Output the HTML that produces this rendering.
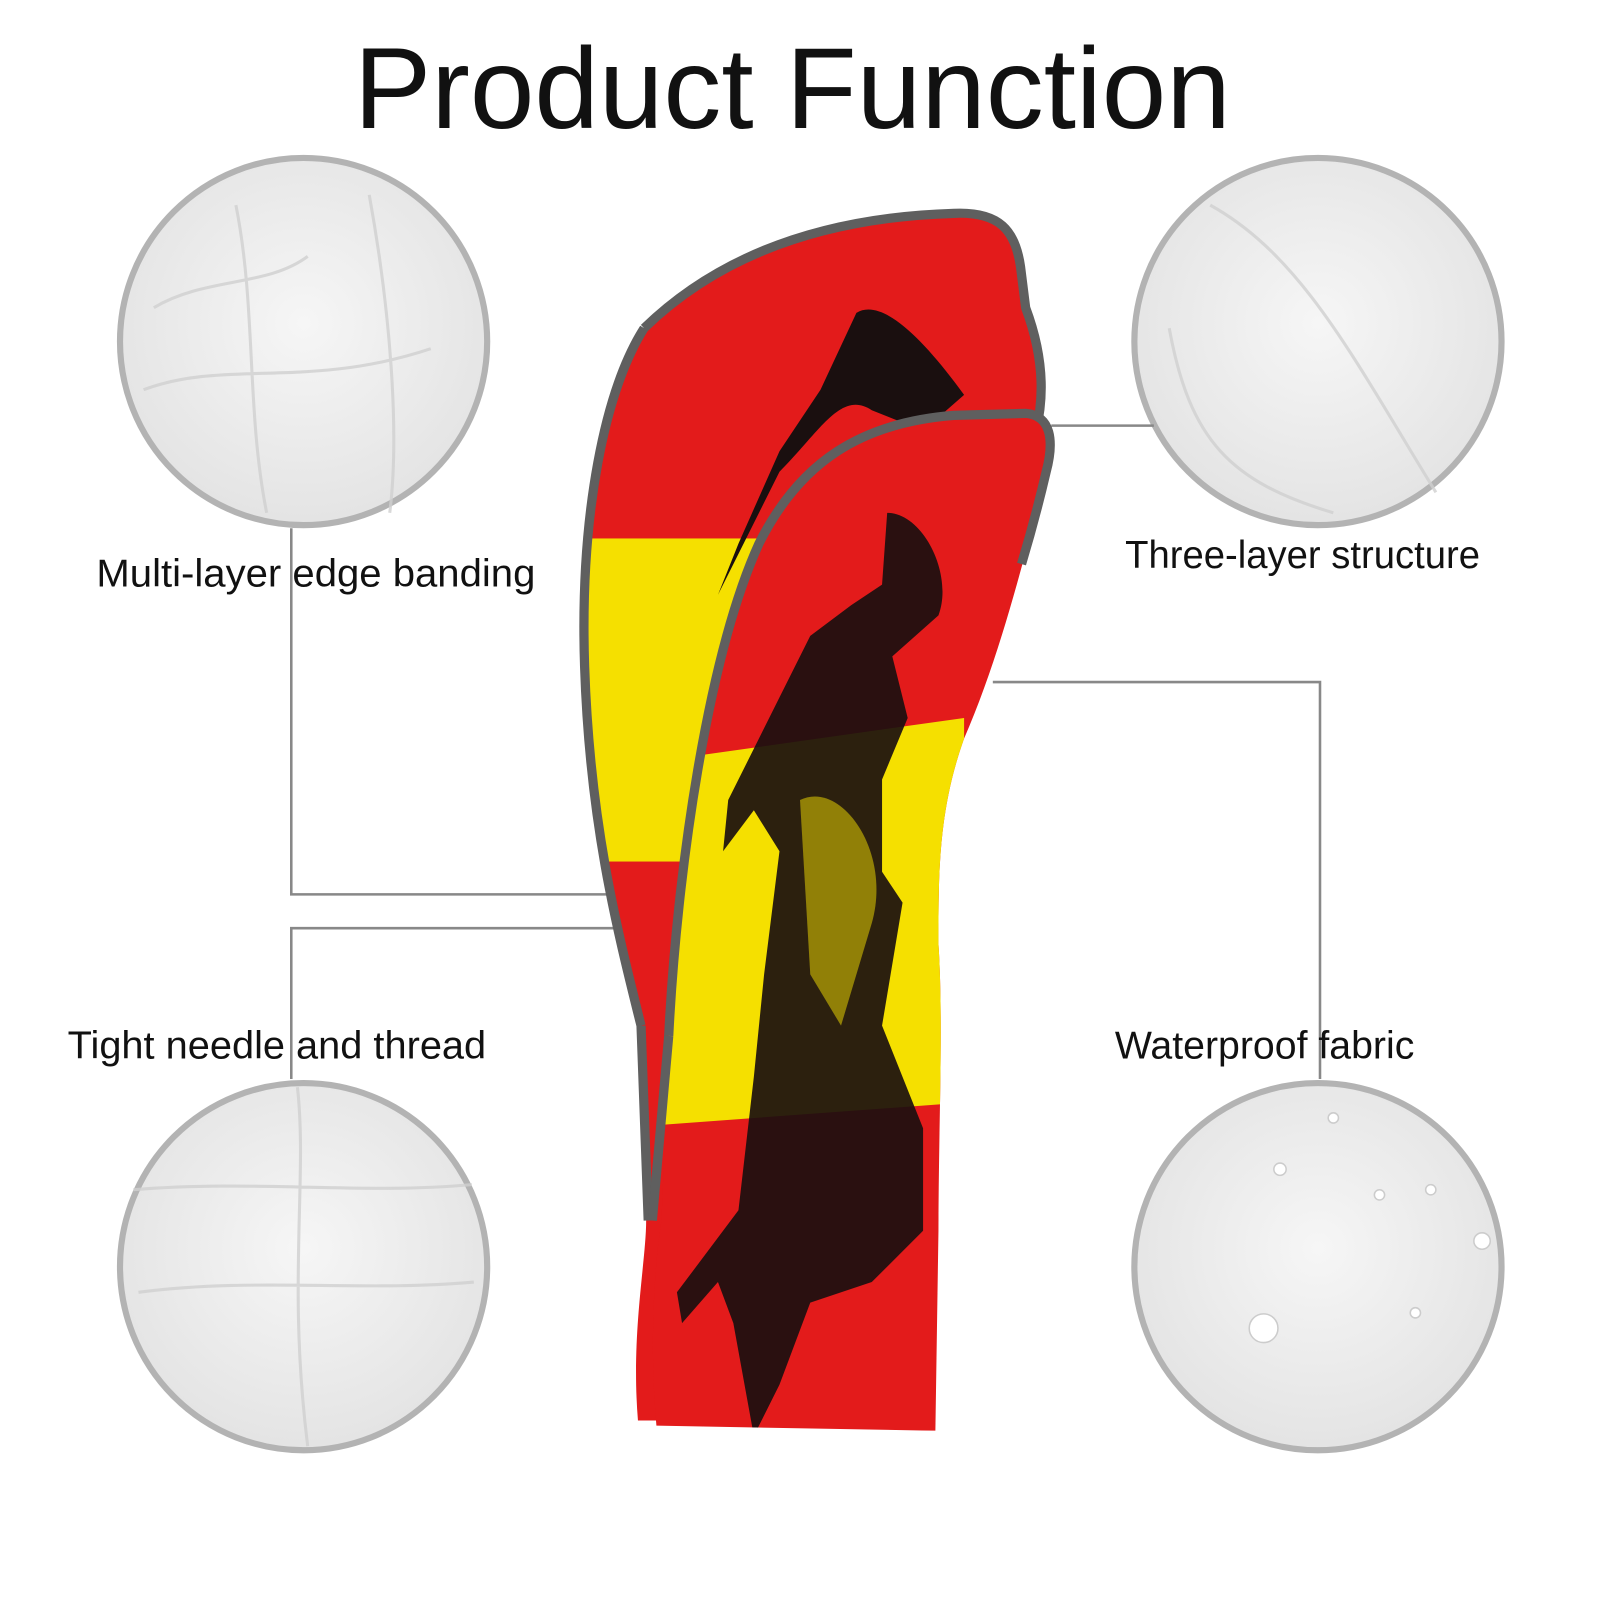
<!DOCTYPE html>
<html><head><meta charset="utf-8"><style>
html,body{margin:0;padding:0;background:#fff;}
svg{display:block;}
text{font-family:"Liberation Sans",sans-serif;fill:#111;}
</style></head><body>
<svg width="1600" height="1600" viewBox="0 0 1560 1560" xmlns="http://www.w3.org/2000/svg">
<defs>
<clipPath id="back"><path d="M628,320 C700,250 800,212 930,208 C975,206 990,225 995,260 L1000,300 C1015,340 1020,380 1010,420 L900,560 L760,1100 L740,1385 L622,1385 C615,1300 630,1230 630,1190 L625,1000 C600,900 575,800 570,650 C565,500 590,380 628,320 Z"/></clipPath>
<clipPath id="front"><path d="M652,1010 C660,850 690,640 740,530 C780,450 840,412 930,405 L1000,403 C1025,405 1028,430 1020,460 C1000,540 975,640 940,720 C915,790 915,850 915,920 C920,1000 915,1100 915,1200 L912,1395 L640,1390 C632,1300 640,1220 645,1190 Z"/></clipPath>
<radialGradient id="cg" cx="50%" cy="45%" r="60%"><stop offset="0" stop-color="#f6f6f6"/><stop offset="1" stop-color="#e2e2e2"/></radialGradient>
</defs>

<text x="345" y="125" font-size="112" textLength="855" lengthAdjust="spacingAndGlyphs">Product Function</text>

<g stroke="#b3b3b3" stroke-width="6" fill="url(#cg)">
<circle cx="296" cy="333" r="179"/>
<circle cx="1285" cy="333" r="179"/>
<circle cx="296" cy="1235" r="179"/>
<circle cx="1285" cy="1235" r="179"/>
</g>
<g stroke="#d0d0d0" stroke-width="3" fill="none" opacity="0.8">
<path d="M150,300 C200,270 260,280 300,250 M140,380 C220,350 300,380 420,340 M230,200 C250,300 240,400 260,500 M360,190 C380,300 390,420 380,500"/>
<path d="M1140,320 C1160,430 1200,470 1300,500 M1180,200 C1270,250 1320,350 1400,480"/>
<path d="M130,1160 C250,1150 350,1165 460,1155 M135,1260 C250,1245 350,1260 462,1250 M290,1060 C300,1150 280,1250 300,1410"/>
</g>
<g fill="#fff" stroke="#ccc" stroke-width="1.5">
<circle cx="1232" cy="1295" r="14"/><circle cx="1248" cy="1140" r="6"/><circle cx="1300" cy="1090" r="5"/><circle cx="1345" cy="1165" r="5"/><circle cx="1395" cy="1160" r="5"/><circle cx="1445" cy="1210" r="8"/><circle cx="1380" cy="1280" r="5"/>
</g>

<g stroke="#888" stroke-width="2.5" fill="none">
<path d="M284,515 L284,872 L592,872"/>
<path d="M284,1052 L284,905 L598,905"/>
<path d="M1025,415 L1125,415"/>
<path d="M968,665 L1287,665 L1287,1052"/>
</g>

<g clip-path="url(#back)">
<rect x="550" y="190" width="500" height="1220" fill="#e31b1b"/>
<rect x="550" y="525" width="500" height="315" fill="#f5e000"/>
<path d="M835,305 C860,290 900,330 940,385 L900,420 L850,400 C820,380 800,420 760,460 L730,520 L700,580 L720,530 L760,440 L800,380 Z" fill="#1a0f0f"/>
</g>
<path d="M628,320 C700,250 800,212 930,208 C975,206 990,225 995,260 L1000,300 C1015,340 1020,380 1010,420 M625,1000 C600,900 575,800 570,650 C565,500 590,380 628,320 M625,1000 L632,1190" fill="none" stroke="#5f5f5f" stroke-width="9"/>

<g clip-path="url(#front)">
<rect x="600" y="390" width="450" height="1020" fill="#e31b1b"/>
<path d="M600,748 L940,700 L940,1075 L600,1100 Z" fill="#f5e000"/>
<path d="M865,500 C900,500 930,560 915,600 L870,640 L885,700 L860,760 L860,850 L880,880 L860,1000 L900,1100 L900,1200 L850,1250 L790,1270 L760,1350 L735,1400 L715,1290 L700,1250 L665,1290 L660,1260 L720,1180 L735,1050 L745,950 L760,830 L735,790 L705,830 L710,780 L760,680 L790,620 L830,590 L860,570 Z" fill="#1a0f0f" opacity="0.92"/>
<path d="M780,780 C820,760 870,830 850,900 L820,1000 L790,950 Z" fill="#f5e000" opacity="0.5"/>
</g>
<path d="M652,1010 C660,850 690,640 740,530 C780,450 840,412 930,405 L1000,403 C1025,405 1028,430 1020,460 C1013,490 1005,520 996,550" fill="none" stroke="#5f5f5f" stroke-width="9"/>
<path d="M652,1010 L636,1190" fill="none" stroke="#5f5f5f" stroke-width="9"/>

<text x="94" y="572" font-size="38" textLength="428" lengthAdjust="spacingAndGlyphs">Multi-layer edge banding</text>
<text x="1097" y="554" font-size="38" textLength="346" lengthAdjust="spacingAndGlyphs">Three-layer structure</text>
<text x="66" y="1032" font-size="38" textLength="408" lengthAdjust="spacingAndGlyphs">Tight needle and thread</text>
<text x="1087" y="1032" font-size="38" textLength="292" lengthAdjust="spacingAndGlyphs">Waterproof fabric</text>
</svg>
</body></html>
